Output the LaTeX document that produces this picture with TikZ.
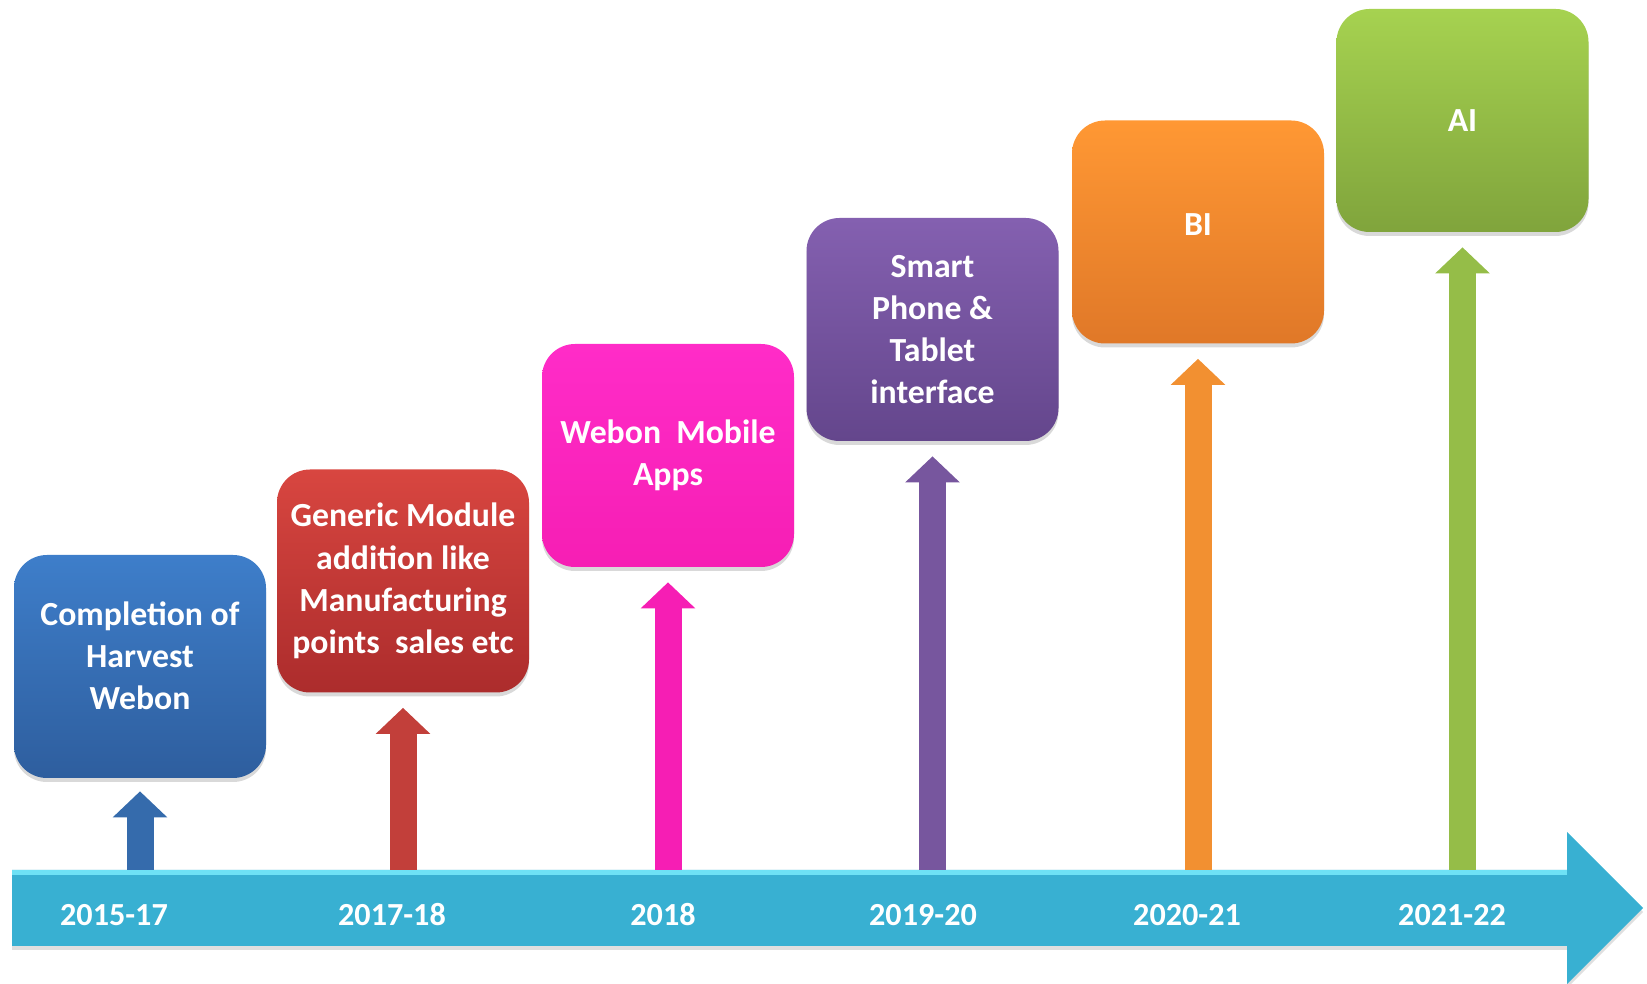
\documentclass[tikz,border=0pt]{standalone}
\usepackage{fontspec}
\setmainfont{Carlito}
\usetikzlibrary{positioning,shadows,arrows.meta}

\definecolor{barcyan}{RGB}{56,176,210}
\definecolor{barlight}{RGB}{110,225,245}
\definecolor{bluetop}{RGB}{62,126,202}
\definecolor{bluebot}{RGB}{46,94,158}
\definecolor{redtop}{RGB}{216,70,64}
\definecolor{redbot}{RGB}{172,44,44}
\definecolor{pinktop}{RGB}{255,44,200}
\definecolor{pinkbot}{RGB}{246,30,180}
\definecolor{purtop}{RGB}{132,96,176}
\definecolor{purbot}{RGB}{100,70,140}
\definecolor{oratop}{RGB}{255,152,52}
\definecolor{orabot}{RGB}{224,120,40}
\definecolor{gretop}{RGB}{166,210,80}
\definecolor{grebot}{RGB}{128,164,60}

\begin{document}
\begin{tikzpicture}[
  phase/.style={rectangle, rounded corners=0.66cm, minimum width=5.04cm, minimum height=4.46cm,
    text=white, align=center, font=\bfseries\fontsize{19.2}{24}\selectfont,
    drop shadow={shadow xshift=0pt, shadow yshift=-0.08cm, opacity=0.3}},
  year/.style={text=white, font=\bfseries\fontsize{18.3}{24}\selectfont},
  rise/.style={line width=0.54cm, -{Triangle[width=1.06cm, length=0.52cm]}}
  ]
  \useasboundingbox (0,0) rectangle (32.94,19.66);

  % Timeline arrow
  \fill[barcyan, drop shadow={shadow xshift=0pt, shadow yshift=-0.08cm, opacity=0.25}]
    (0.24,0.74) -- (31.34,0.74) -- (31.34,-0.02) -- (32.86,1.50)
    -- (31.34,3.02) -- (31.34,2.26) -- (0.24,2.26) -- cycle;
  \node[minimum width=31.1cm, minimum height=1.52cm, inner sep=0pt] (bar) at (15.79,1.50) {};
  \fill[barlight] (bar.north west) rectangle ([yshift=-0.1cm]bar.north east);

  % Phases
  \node[phase, top color=bluetop, bottom color=bluebot, text depth=0.44cm] (harvest) at (2.80,6.33)
    {Completion of\\Harvest\\Webon};
  \node[phase, top color=redtop, bottom color=redbot] (generic) at (8.06,8.04)
    {Generic Module\\addition like\\Manufacturing\\points\ \ sales etc};
  \node[phase, top color=pinktop, bottom color=pinkbot] (mobile) at (13.36,10.55)
    {Webon\ \ Mobile\\Apps};
  \node[phase, top color=purtop, bottom color=purbot] (smart) at (18.65,13.07)
    {Smart\\Phone \&\\Tablet\\interface};
  \node[phase, top color=oratop, bottom color=orabot, text depth=0.28cm] (bi) at (23.96,15.02) {BI};
  \node[phase, top color=gretop, bottom color=grebot] (ai) at (29.25,17.25) {AI};

  % Years
  \node[year] (yr1) at (2.28,1.36) {2015-17};
  \node[year] (yr2) at (7.84,1.36) {2017-18};
  \node[year] (yr3) at (13.26,1.36) {2018};
  \node[year] (yr4) at (18.46,1.36) {2019-20};
  \node[year] (yr5) at (23.74,1.36) {2020-21};
  \node[year] (yr6) at (29.04,1.36) {2021-22};

  % Rising arrows
  \draw[rise, color=bluetop!85!black] (harvest |- bar.north) -- ([yshift=-0.26cm]harvest.south);
  \draw[rise, color=redtop!90!black] (generic |- bar.north) -- ([yshift=-0.3cm]generic.south);
  \draw[rise, color=pinkbot] (mobile |- bar.north) -- ([yshift=-0.3cm]mobile.south);
  \draw[rise, color=purtop!90!black] (smart |- bar.north) -- ([yshift=-0.3cm]smart.south);
  \draw[rise, color=oratop!95!black] (bi |- bar.north) -- ([yshift=-0.3cm]bi.south);
  \draw[rise, color=gretop!90!black] (ai |- bar.north) -- ([yshift=-0.3cm]ai.south);
\end{tikzpicture}
\end{document}
